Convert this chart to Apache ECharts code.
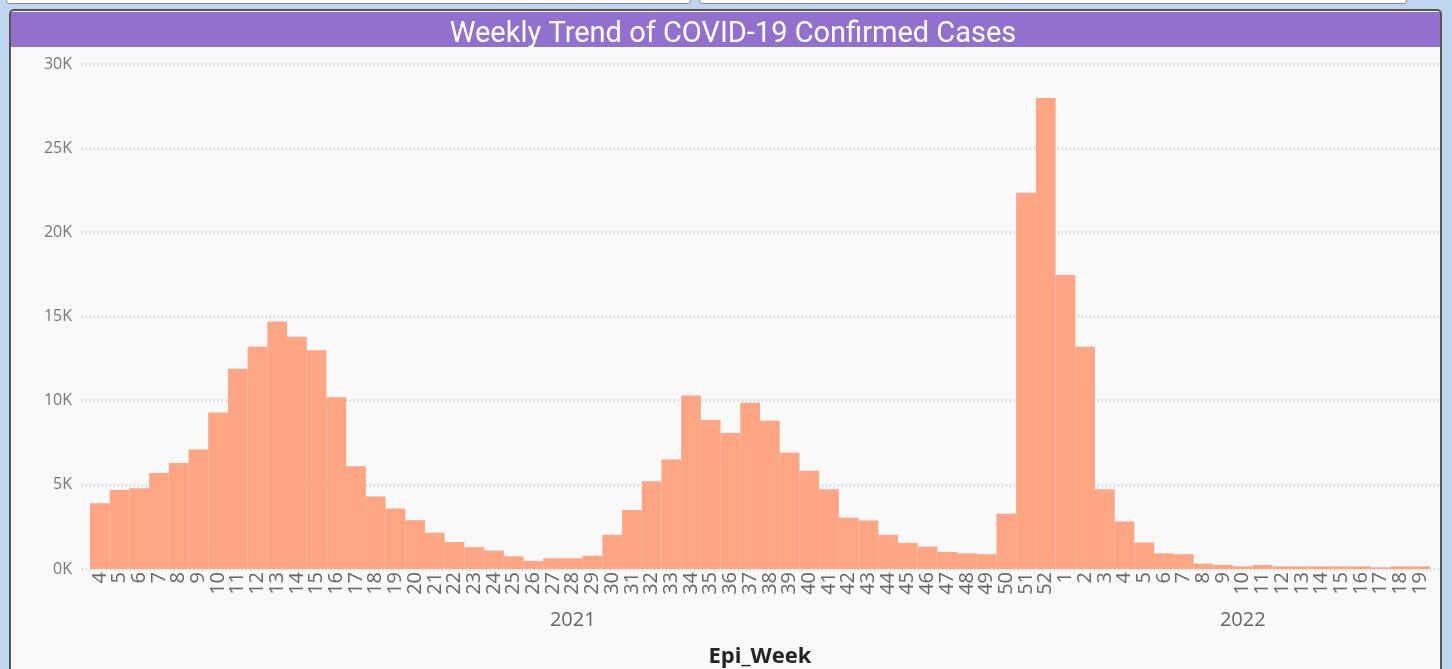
<!DOCTYPE html>
<html>
<head>
<meta charset="utf-8">
<script src="https://cdn.jsdelivr.net/npm/echarts@6/dist/echarts.min.js"></script>
<style>
  html, body { margin: 0; padding: 0; width: 1452px; height: 669px; overflow: hidden; background: #bfd7ee; }
  .top-box { position: absolute; top: -4px; height: 6px; background: #fff; border: 1px solid #8a8a8a; border-radius: 3px; }
  .panel { position: absolute; left: 9px; top: 9px; width: 1433px; height: 700px; background: #f9f9f9; border: 2px solid #555; border-radius: 5px; box-sizing: border-box; }
  #chart { position: absolute; left: 0; top: 0; width: 1452px; height: 669px; }
</style>
</head>
<body>
<div class="top-box" style="left:6px;width:683px"></div>
<div class="top-box" style="left:699px;width:706px"></div>
<div class="panel"></div>
<div id="chart"></div>
<script>
// weeks 4..52 of 2021, then 1..19 of 2022
const weeks = [
  '4','5','6','7','8','9','10','11','12','13','14','15','16','17','18','19','20','21','22','23','24','25','26','27','28','29','30','31','32','33','34','35','36','37','38','39','40','41','42','43','44','45','46','47','48','49','50','51','52',
  '1','2','3','4','5','6','7','8','9','10','11','12','13','14','15','16','17','18','19'
]
const years = [
  '2021','2021','2021','2021','2021','2021','2021','2021','2021','2021','2021','2021','2021','2021','2021','2021','2021','2021','2021','2021','2021','2021','2021','2021','2021','2021','2021','2021','2021','2021','2021','2021','2021','2021','2021','2021','2021','2021','2021','2021','2021','2021','2021','2021','2021','2021','2021','2021','2021',
  '2022','2022','2022','2022','2022','2022','2022','2022','2022','2022','2022','2022','2022','2022','2022','2022','2022','2022','2022'
]
const cases = [
  3900, 4700, 4800, 5700, 6300, 7100, 9300, 11900, 13200, 14700, 13800, 13000, 10200, 6100, 4300, 3600, 2900, 2150, 1600, 1300, 1100, 750, 480, 640, 640, 790, 2030, 3500, 5220, 6500, 10300, 8850, 8080, 9870, 8800, 6900, 5830, 4740, 3050, 2880, 2030, 1550, 1330, 1010, 930, 880, 3280, 22350, 27980,
  17470, 13200, 4740, 2820, 1570, 930, 880, 320, 240, 160, 240, 160, 160, 160, 160, 160, 100, 160, 160
]
const yTicks = [0, 5000, 10000, 15000, 20000, 25000, 30000]

// label each year once, under the middle of its weeks
const yearCenters = []
years.forEach((y, i) => {
  if (i === 0 || years[i - 1] !== y) {
    let last = i
    while (last + 1 < years.length && years[last + 1] === y) last++
    yearCenters.push(Math.floor((i + last) / 2))
  }
})

const chart = echarts.init(document.getElementById('chart'))

const option = {
  animation: false,
  title: {
    text: 'Weekly Trend of COVID-19 Confirmed Cases',
    left: 728,
    textAlign: 'center',
    top: 15,
    textStyle: { color: '#ffffff', fontFamily: 'Roboto', fontSize: 29, fontWeight: 'normal' }
  },
  graphic: [
    { type: 'rect', z: -1, shape: { x: 11, y: 12, width: 1429, height: 35 }, style: { fill: '#9370cd' } }
  ],
  grid: [
    { left: 82, right: 12, top: 64, bottom: 100, outerBoundsMode: 'none' },
    { left: 90, right: 22, top: 64, bottom: 100, outerBoundsMode: 'none' }
  ],
  xAxis: [
    { gridIndex: 0, type: 'category', data: weeks, show: false },
    {
      gridIndex: 1,
      type: 'category',
      data: weeks,
      axisLine: { show: false },
      axisTick: { show: false },
      axisLabel: {
        interval: 0,
        rotate: 90,
        margin: 3,
        color: '#666666',
        fontFamily: 'Open Sans',
        fontSize: 20
      }
    },
    {
      gridIndex: 1,
      type: 'category',
      position: 'bottom',
      data: years,
      axisLine: { show: false },
      axisTick: { show: false },
      axisLabel: {
        interval: (idx) => yearCenters.includes(idx),
        margin: 41,
        color: '#666666',
        fontFamily: 'Open Sans',
        fontSize: 20
      },
      name: 'Epi_Week',
      nameLocation: 'middle',
      nameGap: 77,
      nameTextStyle: { color: '#252423', fontFamily: 'Open Sans', fontSize: 22, fontWeight: 'bold' }
    }
  ],
  yAxis: [
    {
      gridIndex: 0,
      type: 'value',
      min: yTicks[0],
      max: yTicks[yTicks.length - 1],
      interval: yTicks[1] - yTicks[0],
      axisLine: { show: false },
      axisTick: { show: false },
      axisLabel: {
        margin: 10,
        color: '#777777',
        fontFamily: 'Open Sans',
        fontSize: 16,
        formatter: (v) => v / 1000 + 'K'
      },
      splitLine: { lineStyle: { color: '#d2d2d2', width: 3, type: [1, 3] } }
    },
    {
      gridIndex: 1,
      type: 'value',
      min: yTicks[0],
      max: yTicks[yTicks.length - 1],
      show: false
    }
  ],
  series: [
    {
      name: 'Confirmed Cases',
      type: 'bar',
      xAxisIndex: 1,
      yAxisIndex: 1,
      data: cases,
      barCategoryGap: '0%',
      itemStyle: { color: '#fea584' }
    }
  ]
}

chart.setOption(option)
</script>
</body>
</html>
